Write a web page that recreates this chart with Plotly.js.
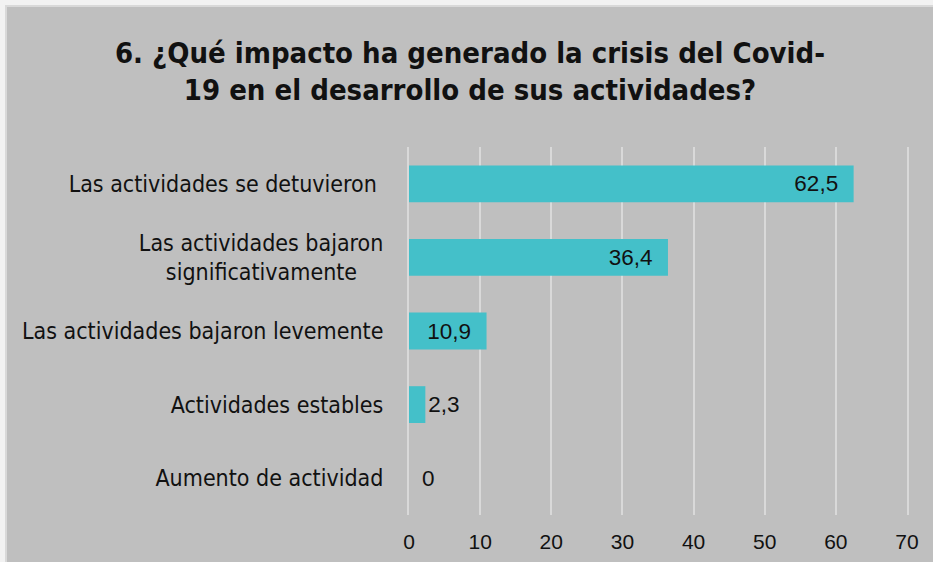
<!DOCTYPE html>
<html>
<head>
<meta charset="utf-8">
<script src="https://cdn.plot.ly/plotly-3.0.1.min.js"></script>
<style>
  html, body { margin: 0; padding: 0; background: #f2f2f2; width: 933px; height: 562px; overflow: hidden; }
  #frame { position: absolute; left: 5px; top: 5px; width: 926px; height: 555px; border-left: 2px solid #d9d9d9; border-top: 2px solid #d9d9d9; }
  #chart { width: 926px; height: 555px; }
</style>
</head>
<body>
<div id="frame"><div id="chart"></div></div>
<script>
const categories = [
  "Las actividades se detuvieron\u00a0",
  "Las actividades bajaron<br>significativamente\u00a0\u00a0\u00a0\u00a0",
  "Las actividades bajaron levemente",
  "Actividades estables",
  "Aumento de actividad"
];
const values = [62.5, 36.4, 10.9, 2.3, 0];
const xTicks = [0, 10, 20, 30, 40, 50, 60, 70];

const fmt = v => String(v).replace('.', ',');
const labels = values.map(v => v === 0 ? '' : fmt(v) + '\u00a0\u00a0');
const numFont = { family: 'Liberation Sans, Arial, sans-serif', size: 22.5, color: '#111111' };
const tickFont = { family: 'Liberation Sans, Arial, sans-serif', size: 21, color: '#111111' };

// values of zero get no bar text in Plotly, so label them with an annotation
const zeroNotes = values.map((v, i) => ({ v, i })).filter(o => o.v === 0).map(o => ({
  x: o.v, y: categories[o.i], xref: 'x', yref: 'y',
  text: fmt(o.v), showarrow: false, xanchor: 'left', xshift: 11,
  font: numFont
}));

const trace = {
  type: 'bar',
  orientation: 'h',
  y: categories,
  x: values,
  text: labels,
  textposition: 'auto',
  textangle: 0,
  insidetextanchor: 'end',
  textfont: numFont,
  insidetextfont: numFont,
  outsidetextfont: numFont,
  marker: { color: '#44c0c9', line: { width: 0 } },
  width: 0.5,
  cliponaxis: false,
  hoverinfo: 'skip'
};

const layout = {
  width: 926,
  height: 555,
  paper_bgcolor: '#bfbfbf',
  plot_bgcolor: '#bfbfbf',
  margin: { l: 402, r: 26, t: 140, b: 47 },
  showlegend: false,
  title: {
    text: '6. ¿Qué impacto ha generado la crisis del Covid-<br>19 en el desarrollo de sus actividades?',
    font: { family: 'DejaVu Sans Condensed, DejaVu Sans, sans-serif', size: 29, color: '#111111', weight: 'bold' },
    x: 0.5, xref: 'container', xanchor: 'center',
    y: 0.90, yref: 'container', yanchor: 'top'
  },
  xaxis: {
    range: [0, 70],
    tickvals: xTicks,
    ticktext: xTicks.map(String),
    showgrid: true,
    gridcolor: '#d9d9d9',
    gridwidth: 2,
    zeroline: false,
    showline: false,
    ticks: '',
    ticklabelstandoff: 12,
    tickfont: tickFont,
    fixedrange: true
  },
  yaxis: {
    type: 'category',
    autorange: 'reversed',
    showgrid: false,
    zeroline: false,
    showline: true,
    mirror: true,
    linecolor: '#d9d9d9',
    linewidth: 2,
    ticks: '',
    ticklabelstandoff: 19,
    tickfont: { family: 'DejaVu Sans Condensed, DejaVu Sans, sans-serif', size: 23, color: '#111111' },
    fixedrange: true
  },
  annotations: zeroNotes,
  separators: ',.'
};

Plotly.newPlot('chart', [trace], layout, { displayModeBar: false, staticPlot: true });
</script>
</body>
</html>
